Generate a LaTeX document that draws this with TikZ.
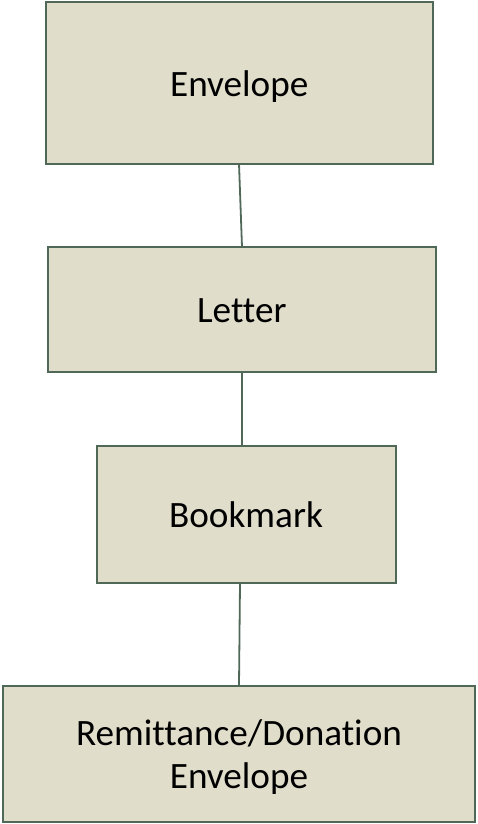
\documentclass[tikz,border=0pt]{standalone}
\usepackage{fontspec}
\setmainfont[Ligatures={NoCommon}]{Carlito}
\definecolor{boxfill}{RGB}{224,221,203}
\definecolor{boxline}{RGB}{80,104,88}
\begin{document}
\begin{tikzpicture}[x=1pt,y=-1pt,
  blk/.style={draw=boxline,fill=boxfill,line width=2pt,inner sep=0pt,outer sep=0pt,
    font=\fontsize{37.2}{43.3}\selectfont,align=center},
  oneline/.style={text height=26.6pt,text depth=0pt},
  twoline/.style={text height=75.6pt,text depth=7pt},
  link/.style={draw=boxline,line width=1.8pt}]
\useasboundingbox (0,0) rectangle (477,824);
\node[blk,oneline,minimum width=387.5pt,minimum height=161pt] (env) at (239.25,83) {Envelope};
\node[blk,oneline,minimum width=387.5pt,minimum height=125pt] (let) at (241.75,309.5) {Letter};
\node[blk,oneline,minimum width=299pt,minimum height=137pt] (book) at (246,514.5) {Bookmark};
\node[blk,twoline,minimum width=472pt,minimum height=136pt] (rem) at (239,754) {Remittance/Donation\\Envelope};
\draw[link] ([xshift=-0.25pt]env.south) -- ([xshift=0.25pt]let.north);
\draw[link] ([xshift=0.25pt]let.south) -- ([xshift=-4pt]book.north);
\draw[link] ([xshift=-6pt]book.south) -- (rem.north);
\end{tikzpicture}
\end{document}
